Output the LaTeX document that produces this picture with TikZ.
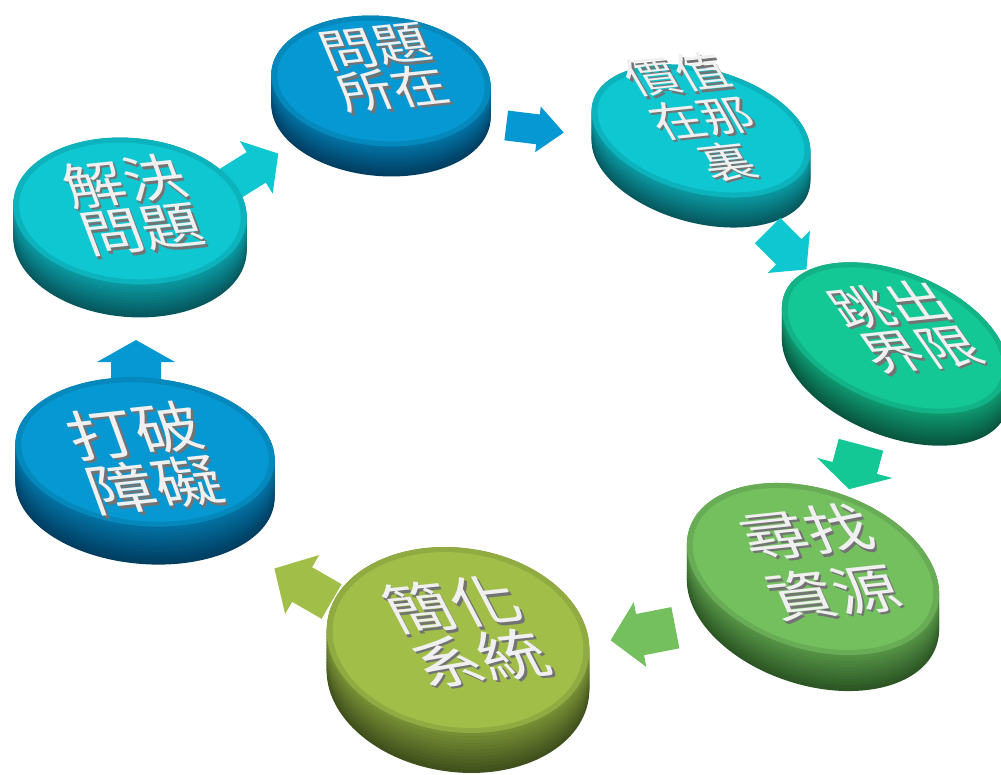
\documentclass[tikz,border=0pt]{standalone}
\usepackage{fontspec}
\newfontfamily\cjk{Noto Sans CJK TC}

\definecolor{faceblue}{RGB}{5,152,210}
\definecolor{sideblue}{RGB}{0,62,98}
\definecolor{facecyan}{RGB}{14,199,209}
\definecolor{sidecyan}{RGB}{6,88,94}
\definecolor{faceteal}{RGB}{20,200,150}
\definecolor{sideteal}{RGB}{8,86,62}
\definecolor{facegreen}{RGB}{116,192,95}
\definecolor{sidegreen}{RGB}{44,86,36}
\definecolor{faceolive}{RGB}{160,190,72}
\definecolor{sideolive}{RGB}{64,80,28}

\tikzset{
  label text/.style={text=white!88!gray, align=center, inner sep=0pt},
  label shade/.style={text=black!55, align=center, inner sep=0pt},
}

\begin{document}
\begin{tikzpicture}[x=1pt, y=-1pt]
  \clip (0,0) rectangle (1001,774);
  % arrows whose tails go under a disc
  \foreach \name/\x/\y/\ang/\len/\sw/\hw/\hl/\col in {a6/136/368/90/56/50/78/22/blue, a7/252/170/32/62/36/62/26/cyan} {
    \coordinate (\name) at (\x,\y);
    \fill[face\col, shift={(\name)}, rotate=\ang]
      (-\len/2,-\sw/2) -- ({\len/2-\hl},-\sw/2) -- ({\len/2-\hl},-\hw/2) -- (\len/2,0)
      -- ({\len/2-\hl},\hw/2) -- ({\len/2-\hl},\sw/2) -- (-\len/2,\sw/2) -- cycle;
  }
  % discs
  \foreach \name/\x/\y/\a/\b/\r/\t/\col in {d1/381/81/110/65/-5/30/blue, d2/701/131/112/62/-15/30/cyan,
      d3/895/338/119/66/-22/32/teal, d4/813/569/130/80/-18/36/green, d5/458/640/132/92/-8/40/olive,
      d6/145/452/130/74/-5/38/blue, d7/130/211/117/73/-5/33/cyan} {
    \coordinate (\name) at (\x,\y);
    \foreach \k in {0,...,12} {
      \pgfmathsetmacro\off{\t*(1-\k/12)}
      \pgfmathtruncatemacro\pct{60*\k/12}
      \fill[face\col!\pct!side\col, shift={(\x,\y+\off)}, rotate=\r] (0,0) ellipse [x radius=\a pt, y radius=\b pt];
    }
    \pgfmathsetmacro\ai{\a-6}
    \pgfmathsetmacro\bi{\b-5}
    \fill[face\col!90!black, shift={(\name)}, rotate=\r] (0,0) ellipse [x radius=\a pt, y radius=\b pt];
    \fill[face\col, shift={(\name)}, rotate=\r] (0,0) ellipse [x radius=\ai pt, y radius=\bi pt];
  }
  % arrows on top
  \foreach \name/\x/\y/\ang/\len/\sw/\hw/\hl/\col in {a1/535/129/-7/58/30/46/26/blue, a2/787/250/-45/55/36/60/25/cyan,
      a3/855/467/-105/46/46/78/22/teal, a4/643/634/-169/66/42/66/30/green, a5/303/585/150/66/40/68/32/olive} {
    \coordinate (\name) at (\x,\y);
    \fill[face\col, shift={(\name)}, rotate=\ang]
      (-\len/2,-\sw/2) -- ({\len/2-\hl},-\sw/2) -- ({\len/2-\hl},-\hw/2) -- (\len/2,0)
      -- ({\len/2-\hl},\hw/2) -- ({\len/2-\hl},\sw/2) -- (-\len/2,\sw/2) -- cycle;
  }
  % labels
  \foreach \name/\x/\y/\fs/\bs/\sl/\txt in {t1/384/68/54/52/-0.3/{問題\\所在}, t2/702/118/50/54/-0.45/{價值\\在那\\裏},
      t3/905/327/56/56/-0.55/{跳出\\界限}, t4/820/562/64/74/-0.32/{尋找\\資源}, t5/466/631/66/66/-0.4/{簡化\\系統},
      t6/145/458/66/66/-0.25/{打破\\障礙}, t7/133/205/60/58/-0.26/{解決\\問題}} {
    \node[label shade, font={\cjk\fontsize{\fs}{\bs}\selectfont}, rotate=6, xslant=\sl, yscale=0.85] (\name s) at (\x+2.5,\y+2.5) {\txt};
    \node[label text, font={\cjk\fontsize{\fs}{\bs}\selectfont}, rotate=6, xslant=\sl, yscale=0.85] (\name) at (\x,\y) {\txt};
  }
\end{tikzpicture}
\end{document}
